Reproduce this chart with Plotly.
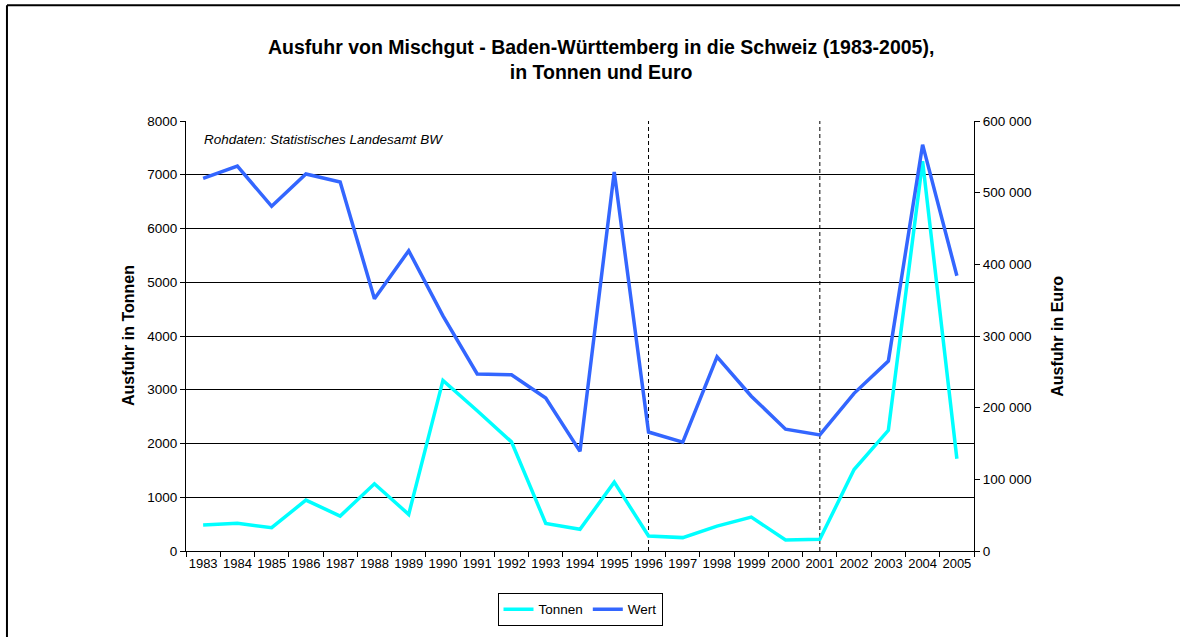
import plotly.graph_objects as go

years = [str(y) for y in range(1983, 2006)]
tonnen = [483, 514, 434, 947, 650, 1251, 681, 3174, 2610, 2030, 514, 403, 1281,
          279, 249, 464, 631, 204, 217, 1516, 2246, 7250, 1715]
wert = [520000, 537000, 481000, 526000, 515000, 352000, 419000, 328000, 247000,
        246000, 213500, 139000, 529000, 166000, 152000, 271000, 216000, 170000,
        162000, 220000, 265000, 567000, 384000]
marker_years = ["1996", "2001"]

title_lines = ["Ausfuhr von Mischgut - Baden-Württemberg in die Schweiz (1983-2005),",
               "in Tonnen und Euro"]
source_text = "Rohdaten: Statistisches Landesamt BW"

FONT = "Liberation Sans, Arial, sans-serif"

fig = go.Figure()
fig.add_trace(go.Scatter(x=years, y=tonnen, name="Tonnen", mode="lines",
                         line=dict(color="#00FFFF", width=3.5), yaxis="y"))
fig.add_trace(go.Scatter(x=years, y=wert, name="Wert", mode="lines",
                         line=dict(color="#3366FF", width=3.5), yaxis="y2"))

shapes = []
for yr in marker_years:
    idx = years.index(yr)
    shapes.append(dict(type="line", xref="x", yref="paper", x0=idx, x1=idx, y0=0, y1=1,
                       line=dict(color="black", width=1, dash="4px,3px"), layer="below"))
# outer frame (top and left edges visible)
shapes.append(dict(type="line", xref="paper", yref="paper", x0=-0.2272, x1=1.27,
                   y0=1.2691, y1=1.2691, line=dict(color="black", width=2)))
shapes.append(dict(type="line", xref="paper", yref="paper", x0=-0.2272, x1=-0.2272,
                   y0=1.2691, y1=-0.25, line=dict(color="black", width=2)))

fig.update_layout(
    width=1180, height=637,
    margin=dict(l=186, r=206, t=121, b=85),
    paper_bgcolor="white", plot_bgcolor="white",
    font=dict(family=FONT, size=13, color="black"),
    separators=", ",
    showlegend=True,
    legend=dict(orientation="h", x=0.5, xanchor="center", y=-0.095, yanchor="top",
                bordercolor="black", borderwidth=1, font=dict(size=13.5),
                itemwidth=30, tracegroupgap=0),
    xaxis=dict(type="category", range=[-0.5, len(years) - 0.5], showline=True,
               linecolor="black", linewidth=1, ticks="outside", ticklen=5,
               tickcolor="black", tickson="boundaries", tickangle=0,
               showgrid=False, tickfont=dict(size=13), zeroline=False),
    yaxis=dict(range=[0, 8000], dtick=1000, tickformat="d", showline=True,
               linecolor="black", linewidth=1, ticks="outside", ticklen=5,
               tickcolor="black", showgrid=True, gridcolor="black", gridwidth=1,
               zeroline=False, tickfont=dict(size=13.5)),
    yaxis2=dict(range=[0, 600000], dtick=100000, tickformat=",d", overlaying="y",
                side="right", showline=True, linecolor="black", linewidth=1,
                ticks="outside", ticklen=5, tickcolor="black", showgrid=False,
                zeroline=False, tickfont=dict(size=13.5)),
    shapes=shapes,
    annotations=[
        dict(text="<br>".join("<b>" + t + "</b>" for t in title_lines),
             xref="paper", yref="paper", x=0.527, y=1.144,
             xanchor="center", yanchor="middle", showarrow=False,
             font=dict(family=FONT, size=19.5, color="black"), align="center"),
        dict(text="<i>" + source_text + "</i>", xref="paper", yref="paper", x=0.02,
             y=0.958, xanchor="left", yanchor="middle", showarrow=False,
             font=dict(size=13.5)),
        dict(text="<b>Ausfuhr in Tonnen</b>", xref="paper", yref="paper", x=-0.0736,
             y=0.5, xanchor="center", yanchor="middle", textangle=-90,
             showarrow=False, font=dict(size=16)),
        dict(text="<b>Ausfuhr in Euro</b>", xref="paper", yref="paper", x=1.105,
             y=0.5, xanchor="center", yanchor="middle", textangle=-90,
             showarrow=False, font=dict(size=16)),
    ],
)

fig.write_html("out.html", config={"displayModeBar": False},
               post_script="document.body.style.margin='0';")
